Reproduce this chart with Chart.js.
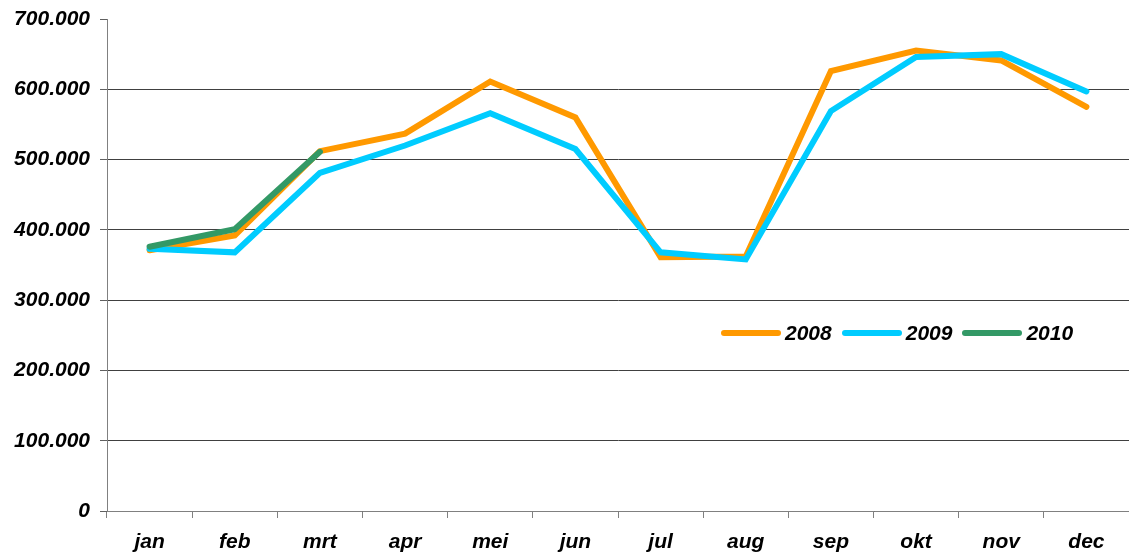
<!DOCTYPE html>
<html>
<head>
<meta charset="utf-8">
<script src="https://cdn.jsdelivr.net/npm/chart.js@4"></script>
<style>
  html, body { margin: 0; padding: 0; background: #fff; }
  #wrap { position: relative; width: 1129px; height: 553px; }
  #legend { position: absolute; left: 721px; top: 321px; display: flex; align-items: center;
            font: italic bold 21px "Liberation Sans", Arial, sans-serif; color: #000; }
  #legend .item { display: flex; align-items: center; margin-right: 10px; }
  #legend .swatch { width: 60px; height: 6px; border-radius: 3px; margin-right: 4px; }
</style>
</head>
<body>
<div id="wrap">
  <canvas id="chart" width="1129" height="553"></canvas>
  <div id="legend"></div>
</div>
<script>
// --- Data ---
const months = ['jan', 'feb', 'mrt', 'apr', 'mei', 'jun', 'jul', 'aug', 'sep', 'okt', 'nov', 'dec'];
const years = ['2008', '2009', '2010'];
const values2008 = [371000, 392000, 512000, 537000, 611000, 560000, 361000, 362000, 626000, 655000, 641000, 575000];
const values2009 = [373000, 368000, 481000, 520000, 566000, 515000, 368000, 358000, 569000, 646000, 650000, 597000];
const values2010 = [376000, 401000, 511000];
const colors = ['#FF9900', '#00CCFF', '#339966'];
const yMax = 700000;

const fmt = v => String(v).replace(/\B(?=(\d{3})+(?!\d))/g, '.');
const tickFont = { family: '"Liberation Sans", Arial, sans-serif', size: 21, style: 'italic', weight: 'bold' };

function makeSet(label, data, color, order) {
    return {
        label, data, order,
        borderColor: color, backgroundColor: color,
        borderWidth: 6, pointRadius: 0, tension: 0,
        borderCapStyle: 'round', borderJoinStyle: 'miter', fill: false
    };
}

new Chart(document.getElementById('chart'), {
    type: 'line',
    data: {
        labels: months,
        datasets: [
            makeSet(years[0], values2008, colors[0], 3),
            makeSet(years[1], values2009, colors[1], 2),
            makeSet(years[2], values2010, colors[2], 1)
        ]
    },
    options: {
        responsive: false, animation: false,
        layout: { padding: { left: 10, top: 19, right: 0, bottom: 0 } },
        plugins: { legend: { display: false }, tooltip: { enabled: false } },
        scales: {
            x: {
                offset: true,
                grid: { offset: true, drawOnChartArea: false, color: '#808080', tickLength: 7 },
                border: { color: '#808080' },
                ticks: { color: '#000', font: tickFont, padding: 12, maxRotation: 0, autoSkip: false },
                afterFit: s => { s.height = 42; }
            },
            y: {
                min: 0, max: yMax,
                grid: {
                    // no gridline along the top, only the tick mark
                    color: c => c.tick && c.tick.value === yMax ? 'rgba(0,0,0,0)' : '#404040',
                    tickColor: '#606060', tickLength: 7
                },
                border: { color: '#808080' },
                ticks: { stepSize: 100000, color: '#000', font: tickFont, padding: 10, callback: fmt },
                afterFit: s => { s.width = 97; s.paddingTop = 0; }
            }
        }
    }
});

// --- Legend ---
document.getElementById('legend').innerHTML = years.map((y, i) => `
    <div class="item"><span class="swatch" style="background:${colors[i]}"></span><span>${y}</span></div>
`).join('');
</script>
</body>
</html>
